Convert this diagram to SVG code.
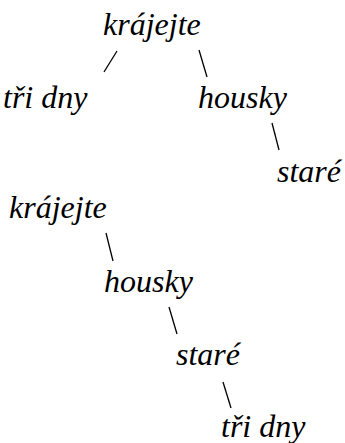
<svg xmlns="http://www.w3.org/2000/svg" width="345" height="443" viewBox="0 0 345 443">
<style>
.n{font-family:'Liberation Serif','Times New Roman',Times,serif;font-style:italic;font-size:32px;fill:#000}
.c line{stroke:#000;stroke-width:1.3}
</style>
<rect width="345" height="443" fill="#fff"/>
<g id="connectors" class="c">
<line x1="117" y1="51" x2="104" y2="72"/>
<line x1="199" y1="50" x2="207" y2="77"/>
<line x1="272" y1="123" x2="279" y2="150"/>
<line x1="106" y1="233" x2="113" y2="261"/>
<line x1="169" y1="307" x2="177" y2="334"/>
<line x1="223" y1="382" x2="231" y2="408"/>
</g>
<g id="t1-krajejte"><text class="n" x="103" y="35">krájejte</text></g>
<g id="t1-tridny"><text class="n" x="3" y="108">tři dny</text></g>
<g id="t1-housky"><text class="n" x="198" y="108">housky</text></g>
<g id="t1-stare"><text class="n" x="277" y="182">staré</text></g>
<g id="t2-krajejte"><text class="n" x="9" y="218">krájejte</text></g>
<g id="t2-housky"><text class="n" x="104" y="292">housky</text></g>
<g id="t2-stare"><text class="n" x="176" y="365">staré</text></g>
<g id="t2-tridny"><text class="n" x="221" y="437">tři dny</text></g>
</svg>
